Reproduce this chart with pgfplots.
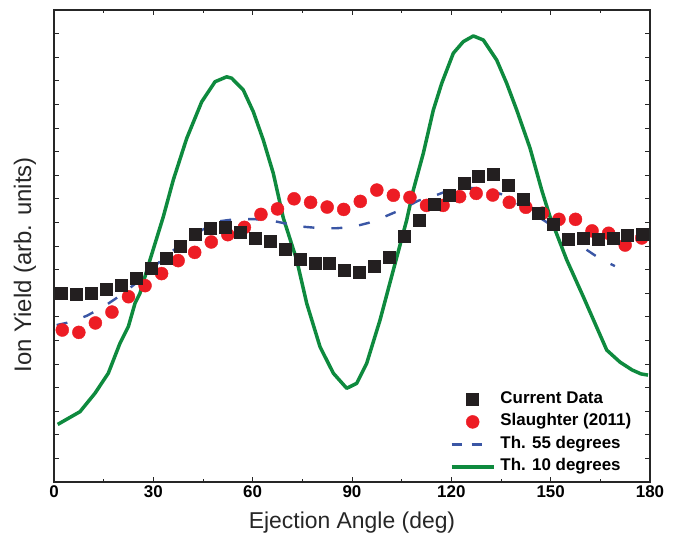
\documentclass[border=0pt]{standalone}
\usepackage{pgfplots}
\pgfplotsset{compat=1.18}
\usepackage{fontspec}
\setmainfont{Liberation Sans}
\definecolor{cblack}{HTML}{231F20}
\definecolor{cred}{HTML}{ED1C24}
\definecolor{cblue}{HTML}{3A56A5}
\definecolor{cgreen}{HTML}{0E8A3E}

\pgfplotsset{
  linelegend/.style={legend image code/.code={\draw[##1] (0bp,0bp) -- (42bp,0bp);}},
  dashlegend/.style={legend image code/.code={\draw[##1, dash pattern=on 10bp off 10bp] (0bp,0bp) -- (30bp,0bp);}},
  marklegend/.style={legend image code/.code={\draw[##1] plot coordinates {(21bp,0bp)};}},
}

\pgfplotstableread{
x y
2.25 8.00
6.75 7.95
11.25 7.98
15.75 8.17
20.25 8.32
24.75 8.63
29.25 9.06
33.75 9.48
38.25 10.00
42.75 10.50
47.25 10.75
51.75 10.78
56.25 10.58
60.75 10.35
65.25 10.22
69.75 9.86
74.25 9.45
78.75 9.27
83.25 9.27
87.75 8.97
92.25 8.87
96.75 9.15
101.25 9.52
105.75 10.41
110.25 11.10
114.75 11.77
119.25 12.17
123.75 12.68
128.25 12.97
132.75 13.05
137.25 12.56
141.75 11.99
146.25 11.39
150.75 10.94
155.25 10.27
159.75 10.31
164.25 10.27
168.75 10.34
173.25 10.44
177.75 10.51
}\current

\pgfplotstableread{
x y
2.5 6.44
7.5 6.34
12.5 6.74
17.5 7.20
22.5 7.85
27.5 8.32
32.5 8.83
37.5 9.38
42.5 9.73
47.5 10.17
52.5 10.48
57.5 10.79
62.5 11.34
67.5 11.57
72.5 12.00
77.5 11.85
82.5 11.65
87.5 11.55
92.5 11.89
97.5 12.37
102.5 12.15
107.5 12.06
112.5 11.72
117.5 11.72
122.5 12.09
127.5 12.23
132.5 12.16
137.5 11.85
142.5 11.64
147.5 11.39
152.5 11.13
157.5 11.13
162.5 10.64
167.5 10.54
172.5 10.04
177.5 10.34
}\slaughter

\pgfplotstableread{
x y
0.8 6.65
5.35 6.79
10 7.05
15 7.43
20 7.90
25 8.45
30 9.10
35 9.70
40 10.25
45 10.70
50 11.05
55 11.14
60 11.14
65 11.10
70 10.95
75 10.82
80 10.76
85 10.75
90 10.80
95 10.98
100 11.25
105 11.55
110 11.92
115 12.13
120 12.40
125 12.47
130 12.42
135 12.20
140 11.80
145 11.35
150 10.90
155 10.40
160 9.92
165 9.45
169.4 9.15
}\thfiftyfive

\pgfplotstableread{
x y
1.12 2.44
7.85 2.98
12.38 3.76
16.40 4.61
19.93 5.88
22.44 6.58
24.46 7.57
25.97 8.00
28.99 9.41
33.01 11.24
36.03 12.80
40.08 14.56
44.61 16.11
48.63 16.96
52.16 17.17
53.67 17.11
57.17 16.61
60.19 15.69
63.21 14.49
66.23 13.08
69.25 11.19
73.30 9.41
76.32 7.57
80.34 5.73
84.36 4.61
88.40 3.97
91.42 4.18
94.44 5.03
98.46 6.86
102.48 8.98
106.52 11.10
108.52 12.37
111.54 13.93
114.56 15.76
117.09 16.89
120.60 18.17
123.62 18.66
126.64 18.90
129.66 18.73
133.70 17.88
136.73 16.89
139.75 15.76
143.76 14.15
147.30 12.37
149.80 11.24
154.85 9.41
159.86 7.85
166.93 5.59
170.94 5.08
174.57 4.75
177.28 4.58
179.40 4.53
}\thten

\begin{document}
\begin{tikzpicture}
\path[use as bounding box] (-54bp,-62bp) rectangle (626bp,482bp);
\begin{axis}[
  at={(0,0)}, anchor=south west,
  scale only axis, width=596bp, height=472bp,
  xmin=0, xmax=180, ymin=0, ymax=20,
  xtick={0,30,...,180}, minor x tick num=1,
  ytick={0,1,...,20}, yticklabels={},
  tick align=inside,
  major tick length=5bp, minor tick length=3bp,
  axis line style={line width=1.2bp, draw=black!85},
  every tick/.style={line width=0.8bp, black!85},
  /pgf/number format/assume math mode=true,
  tick label style={font=\fontsize{17}{20}\selectfont\bfseries},
  xlabel={Ejection Angle (deg)},
  ylabel={Ion Yield (arb. units)},
  label style={text=black!85},
  xlabel style={font=\fontsize{23}{26}\selectfont, at={(axis description cs:0.5,-0.087)}, anchor=center},
  ylabel style={font=\fontsize{24}{27}\selectfont, at={(axis description cs:-0.0487,0.46)}, anchor=center},
  reverse legend,
  legend cell align=left,
  legend style={draw=none, fill=none, at={(axis description cs:0.664,0.1966)}, anchor=north west,
    font=\fontsize{17}{20}\selectfont\bfseries, inner sep=0pt, row sep=2.5bp, column sep=3bp,
    nodes={inner sep=2bp, text height=12bp, text depth=4bp}},
]
\addplot[cgreen, line width=3.5bp, line join=round, linelegend] table {\thten};
\addlegendentry{Th. 10 degrees}
\addplot[cblue, line width=2.4bp, dash pattern=on 11bp off 17bp, dashlegend] table {\thfiftyfive};
\addlegendentry{Th. 55 degrees}
\addplot[only marks, mark=*, mark size=6.5bp, draw=cred, fill=cred, marklegend] table {\slaughter};
\addlegendentry{Slaughter (2011)}
\addplot[only marks, mark=square*, mark size=6bp, draw=cblack, fill=cblack, marklegend] table {\current};
\addlegendentry{Current Data}
\end{axis}
\end{tikzpicture}
\end{document}
